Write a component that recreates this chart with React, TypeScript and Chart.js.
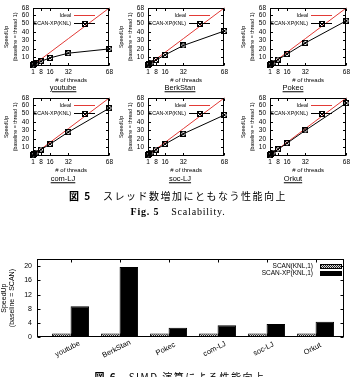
import React, { useEffect, useRef } from "react";
import { Chart, registerables } from "chart.js";

Chart.register(...registerables);
Chart.defaults.color = "#000";
Chart.defaults.font.family = "'Liberation Sans', Arial, sans-serif";

// ---------- data ----------
const threadCounts = [1, 2, 4, 8, 16, 32, 68];
const idealSpeedup = [1, 2, 4, 8, 16, 32, 68];
const graphNames = ["youtube", "BerkStan", "Pokec", "com-LJ", "soc-LJ", "Orkut"];
const speedupYoutube = [1, 1.9, 3.5, 5.5, 9.5, 15, 20];
const speedupBerkStan = [1, 2, 3.9, 7, 13, 24, 41];
const speedupPokec = [1, 2, 4, 7.5, 14, 27, 53];
const speedupComLJ = [1, 2, 4, 7.6, 14, 28, 56];
const speedupSocLJ = [1, 2, 4, 7.5, 14, 26, 48];
const speedupOrkut = [1, 2, 4, 7.8, 15, 30, 62];
const threadTicks = [1, 8, 16, 32, 68];
const speedupTicks = [10, 20, 30, 40, 50, 60, 68];

const simdScan = [1, 1, 1, 1, 1, 1];
const simdScanXP = [8.7, 19.8, 2.6, 3.3, 3.7, 4.3];
const simdTicks = [0, 4, 8, 12, 16, 20];

const lineSeries = [speedupYoutube, speedupBerkStan, speedupPokec, speedupComLJ, speedupSocLJ, speedupOrkut];

const RED = "#e23a36";
const FAMILY = "'Liberation Sans', Arial, sans-serif";

function makeMarker(): HTMLCanvasElement {
  const c = document.createElement("canvas");
  c.width = 6;
  c.height = 6;
  const g = c.getContext("2d")!;
  g.strokeStyle = "#000";
  g.lineWidth = 1;
  g.strokeRect(0.5, 0.5, 5, 5);
  g.beginPath();
  g.moveTo(0, 0); g.lineTo(6, 6);
  g.moveTo(6, 0); g.lineTo(0, 6);
  g.stroke();
  return c;
}

function makeHatch(ctx: CanvasRenderingContext2D): CanvasPattern {
  const c = document.createElement("canvas");
  c.width = 2;
  c.height = 2;
  const g = c.getContext("2d")!;
  g.fillStyle = "#d8d8d8";
  g.fillRect(0, 0, 2, 2);
  g.fillStyle = "#202020";
  g.fillRect(0, 0, 1, 1);
  g.fillRect(1, 1, 1, 1);
  return ctx.createPattern(c, "repeat")!;
}

function framePlugin(xt: number[], yt: number[], len: number) {
  return {
    id: "frameTicks",
    afterDatasetsDraw(chart: any) {
      const { ctx, chartArea: a, scales } = chart;
      const L = Math.round(a.left) + 0.5;
      const R = Math.round(a.right) - 0.5;
      const T = Math.round(a.top) + 0.5;
      const B = Math.round(a.bottom) - 0.5;
      ctx.save();
      ctx.strokeStyle = "#000";
      ctx.lineWidth = 1;
      ctx.strokeRect(L, T, R - L, B - T);
      ctx.beginPath();
      for (const v of xt) {
        const px = Math.round(scales.x.getPixelForValue(v)) + 0.5;
        ctx.moveTo(px, B); ctx.lineTo(px, B - len);
        ctx.moveTo(px, T); ctx.lineTo(px, T + len);
      }
      for (const v of yt) {
        const py = Math.round(scales.y.getPixelForValue(v)) + 0.5;
        ctx.moveTo(L, py); ctx.lineTo(L + len, py);
        ctx.moveTo(R, py); ctx.lineTo(R - len, py);
      }
      ctx.stroke();
      ctx.restore();
    },
  };
}

function lineLegendPlugin(marker: HTMLCanvasElement) {
  return {
    id: "lineLegend",
    afterDraw(chart: any) {
      const { ctx, chartArea: a } = chart;
      const tx = a.left + 38;
      const x0 = a.left + 41;
      const x1 = a.left + 62;
      const rows = [
        { text: "Ideal", y: a.top + 7.5, color: RED, mark: false },
        { text: "SCAN-XP(KNL)", y: a.top + 15.5, color: "#000", mark: true },
      ];
      ctx.save();
      ctx.font = `5.3px ${FAMILY}`;
      ctx.textAlign = "right";
      ctx.textBaseline = "middle";
      for (const r of rows) {
        ctx.fillStyle = "#000";
        ctx.fillText(r.text, tx, r.y);
        ctx.strokeStyle = r.color;
        ctx.lineWidth = 1;
        ctx.beginPath();
        ctx.moveTo(x0, Math.round(r.y) + 0.5);
        ctx.lineTo(x1, Math.round(r.y) + 0.5);
        ctx.stroke();
        if (r.mark) {
          ctx.drawImage(marker, Math.round((x0 + x1) / 2 - 3), Math.round(r.y) - 2.5 + 0.5);
        }
      }
      ctx.restore();
    },
  };
}

function lineConfig(values: number[]) {
  const marker = makeMarker();
  return {
    type: "line",
    data: {
      datasets: [
        {
          label: "SCAN-XP(KNL)",
          data: threadCounts.map((t, i) => ({ x: t, y: values[i] })),
          borderColor: "#000",
          backgroundColor: "#000",
          borderWidth: 1,
          pointStyle: marker,
          pointRadius: 3,
          clip: false,
          order: 0,
        },
        {
          label: "Ideal",
          data: threadCounts.map((t, i) => ({ x: t, y: idealSpeedup[i] })),
          borderColor: RED,
          borderWidth: 1,
          pointRadius: 0,
          clip: false,
          order: 1,
        },
      ],
    },
    options: {
      responsive: false,
      animation: false,
      devicePixelRatio: 1,
      events: [],
      layout: { padding: { top: 5, right: 5, left: 0, bottom: 0 } },
      plugins: { legend: { display: false }, tooltip: { enabled: false } },
      scales: {
        x: {
          type: "linear",
          min: 1,
          max: 68,
          afterBuildTicks: (s: any) => { s.ticks = threadTicks.map((v) => ({ value: v })); },
          afterFit: (s: any) => { s.height = 18; },
          grid: { display: false, drawTicks: false },
          border: { display: false },
          ticks: { font: { size: 6.5 }, color: "#000", padding: 2, maxRotation: 0, minRotation: 0, autoSkip: false },
          title: { display: true, text: "# of threads", font: { size: 6 }, color: "#000", padding: 0 },
        },
        y: {
          min: 0,
          max: 68,
          afterBuildTicks: (s: any) => { s.ticks = speedupTicks.map((v) => ({ value: v })); },
          afterFit: (s: any) => { s.width = 33; },
          grid: { display: false, drawTicks: false },
          border: { display: false },
          ticks: { font: { size: 6.5 }, color: "#000", padding: 4, autoSkip: false },
          title: {
            display: true,
            text: ["SpeedUp", "(baseline = thread 1)"],
            font: { size: 5.3, lineHeight: 1.7 },
            color: "#000",
            padding: { top: 2.5, bottom: 0 },
          },
        },
      },
    },
    plugins: [framePlugin(threadTicks, speedupTicks, 2.5), lineLegendPlugin(marker)],
  };
}

function barConfig(canvas: HTMLCanvasElement) {
  const hatch = makeHatch(canvas.getContext("2d")!);
  const labelsPlugin = {
    id: "barLabels",
    afterDraw(chart: any) {
      const { ctx, chartArea: a, scales } = chart;
      ctx.save();
      ctx.fillStyle = "#000";
      ctx.font = `7.5px ${FAMILY}`;
      ctx.textAlign = "center";
      ctx.textBaseline = "middle";
      graphNames.forEach((name, i) => {
        const px = scales.x.getPixelForValue(i) - 3;
        const py = a.bottom + 12;
        ctx.save();
        ctx.translate(px, py);
        ctx.rotate((-27 * Math.PI) / 180);
        ctx.fillText(name, 0, 0);
        ctx.restore();
      });
      // legend
      const rows = [
        { text: "SCAN(KNL,1)", y: a.top + 7, fill: hatch },
        { text: "SCAN-XP(KNL,1)", y: a.top + 14, fill: "#000" },
      ];
      ctx.font = `6.5px ${FAMILY}`;
      ctx.textAlign = "right";
      for (const r of rows) {
        ctx.fillStyle = "#000";
        ctx.fillText(r.text, a.left + 276, r.y);
        ctx.fillStyle = r.fill as any;
        const bx = Math.round(a.left + 283);
        const by = Math.round(r.y - 2.5);
        ctx.fillRect(bx, by, 22, 5);
        ctx.strokeStyle = "#000";
        ctx.lineWidth = 1;
        ctx.strokeRect(bx + 0.5, by + 0.5, 21, 4);
      }
      ctx.restore();
    },
  };
  return {
    type: "bar",
    data: {
      datasets: [
        {
          label: "SCAN(KNL,1)",
          data: simdScan.map((v, i) => ({ x: i, y: v })),
          backgroundColor: hatch,
          borderColor: "#000",
          borderWidth: 1,
        },
        {
          label: "SCAN-XP(KNL,1)",
          data: simdScanXP.map((v, i) => ({ x: i, y: v })),
          backgroundColor: "#000",
          borderColor: "#000",
          borderWidth: 1,
        },
      ],
    },
    options: {
      responsive: false,
      animation: false,
      devicePixelRatio: 1,
      events: [],
      datasets: { bar: { categoryPercentage: 0.755, barPercentage: 1 } },
      layout: { padding: { top: 8, right: 9, left: 0, bottom: 0 } },
      plugins: { legend: { display: false }, tooltip: { enabled: false } },
      scales: {
        x: {
          type: "linear",
          min: -0.685,
          max: 5.58,
          offset: false,
          afterBuildTicks: (s: any) => { s.ticks = graphNames.map((_, i) => ({ value: i })); },
          afterFit: (s: any) => { s.height = 33; },
          grid: { display: false, drawTicks: false },
          border: { display: false },
          ticks: { display: false },
        },
        y: {
          min: 0,
          max: 22,
          afterBuildTicks: (s: any) => { s.ticks = simdTicks.map((v) => ({ value: v })); },
          afterFit: (s: any) => { s.width = 37; },
          grid: { display: false, drawTicks: false },
          border: { display: false },
          ticks: { font: { size: 7 }, color: "#000", padding: 5, autoSkip: false },
          title: {
            display: true,
            text: ["SpeedUp", "(baseline = SCAN)"],
            font: { size: 7, lineHeight: 1.07 },
            color: "#000",
            padding: { top: 0.5, bottom: 0 },
          },
        },
      },
    },
    plugins: [framePlugin(graphNames.map((_, i) => i), simdTicks, 3), labelsPlugin],
  };
}

function ChartCanvas(props: { left: number; top: number; width: number; height: number; make: (c: HTMLCanvasElement) => any }) {
  const ref = useRef<HTMLCanvasElement>(null);
  useEffect(() => {
    const chart = new Chart(ref.current!, props.make(ref.current!));
    return () => chart.destroy();
  }, []);
  return (
    <canvas
      ref={ref}
      width={props.width}
      height={props.height}
      style={{ position: "absolute", left: props.left, top: props.top, width: props.width, height: props.height }}
    />
  );
}

function Text(props: { x: number; y: number; style?: React.CSSProperties; children: React.ReactNode }) {
  return (
    <div
      style={{
        position: "absolute",
        left: props.x,
        top: props.y,
        transform: "translate(-50%, -50%)",
        whiteSpace: "nowrap",
        lineHeight: 1,
        color: "#000",
        ...props.style,
      }}
    >
      {props.children}
    </div>
  );
}

const plotLefts = [33, 148, 270];
const plotTops = [5, 95];
const nameCenters = [63, 180, 293];
const nameRowY = [88, 179];

export default function App() {
  return (
    <div style={{ position: "fixed", left: 0, top: 0, width: 353, height: 377, overflow: "hidden", background: "#fff" }}>
      {graphNames.map((name, i) => {
        const r = Math.floor(i / 3);
        const c = i % 3;
        return (
          <React.Fragment key={name}>
            <ChartCanvas
              left={plotLefts[c] - 33}
              top={plotTops[r] - 5}
              width={115}
              height={84}
              make={() => lineConfig(lineSeries[i])}
            />
            <Text x={nameCenters[c]} y={nameRowY[r]} style={{ fontFamily: FAMILY, fontSize: 7.5, textDecoration: "underline" }}>
              {name}
            </Text>
          </React.Fragment>
        );
      })}
      <Text x={178} y={196} style={{ fontFamily: "'Noto Sans CJK JP', sans-serif", fontSize: 10, letterSpacing: 1.5 }}>
        <span style={{ fontWeight: 700 }}>図 5</span>
        <span>　スレッド数増加にともなう性能向上</span>
      </Text>
      <Text x={178} y={212} style={{ fontFamily: "'Liberation Serif', serif", fontSize: 10, letterSpacing: 0.8 }}>
        <span style={{ fontWeight: 700 }}>Fig. 5</span>
        <span style={{ marginLeft: 12 }}>Scalability.</span>
      </Text>
      <ChartCanvas left={0} top={250} width={353} height={120} make={(c) => barConfig(c)} />
      <Text x={180} y={377} style={{ fontFamily: "'Noto Sans CJK JP', sans-serif", fontSize: 10, letterSpacing: 1.5 }}>
        <span style={{ fontWeight: 700 }}>図 6</span>
        <span>　SIMD 演算による性能向上</span>
      </Text>
    </div>
  );
}
